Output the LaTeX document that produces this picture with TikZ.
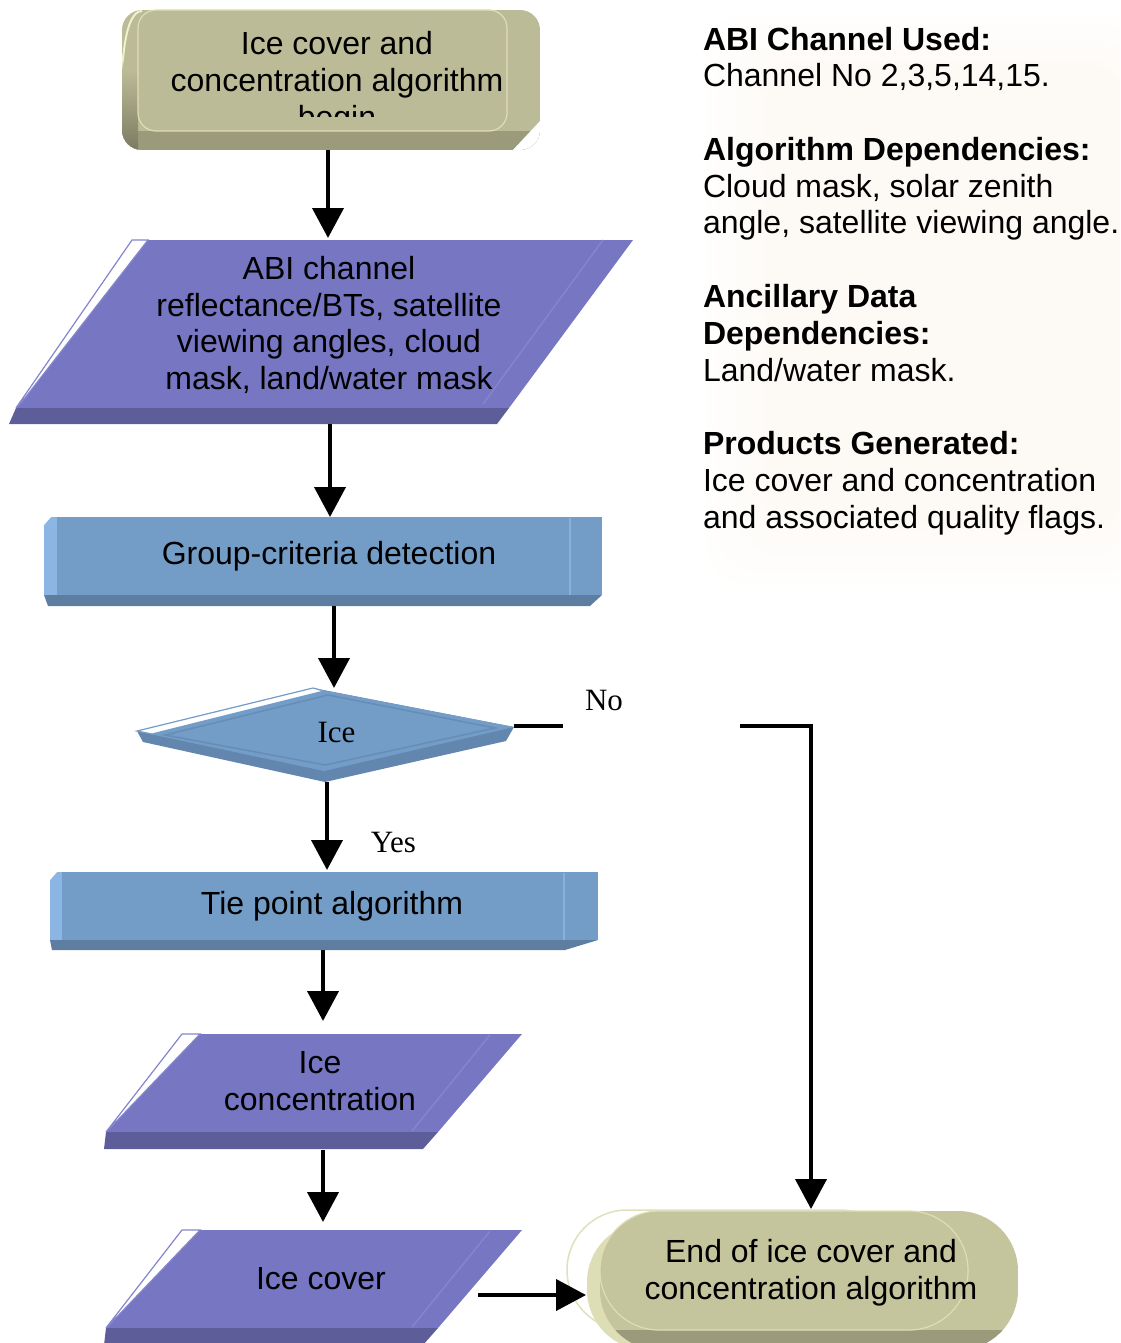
\documentclass[tikz,border=0pt]{standalone}
\usepackage{fontspec}
\setmainfont{Liberation Sans}
\newfontfamily\labelserif{Liberation Serif}
\usetikzlibrary{arrows.meta}

\definecolor{olivefront}{HTML}{BCBB97}
\definecolor{olivedeep}{HTML}{9B9A7B}
\definecolor{olivelight}{HTML}{DEDEB6}
\definecolor{oliveglow}{HTML}{F0F0CC}
\definecolor{endfront}{HTML}{C4C49D}
\definecolor{iofront}{HTML}{7676C2}
\definecolor{iodeep}{HTML}{5D5D99}
\definecolor{ioline}{HTML}{8585CF}
\definecolor{procfront}{HTML}{739DC6}
\definecolor{procdeep}{HTML}{5E7EA1}
\definecolor{proclight}{HTML}{8BB6E3}
\definecolor{procline}{HTML}{87B0DB}
\definecolor{diadeep}{HTML}{6386AE}
\definecolor{diainner}{HTML}{668DB7}
\definecolor{haze}{HTML}{F3DCC0}

\begin{document}
\begin{tikzpicture}[x=1pt, y=-1pt,
  flow/.style={line width=4pt, -{Triangle[width=31pt,length=30pt]}},
  hub/.style={draw=none, inner sep=0pt, outer sep=0pt},
  txt/.style={font=\fontsize{32}{36.8}\selectfont, align=center, inner sep=0pt, outer sep=0pt},
  serifl/.style={font=\labelserif\fontsize{31}{36}\selectfont, inner sep=0pt, outer sep=0pt},
  info/.style={font=\fontsize{32}{36.7}\selectfont, align=left, inner sep=0pt, outer sep=0pt}
]
\useasboundingbox (0,0) rectangle (1120,1343);
\clip (0,0) rectangle (1120,1343);

% faint soft glow behind the side notes
\foreach \i in {0,...,13} {
  \fill[haze, opacity=0.012, rounded corners=40pt]
    (700+6*\i, 10+5*\i) rectangle (1150-2*\i, 590-6*\i);
}

% ---------- start terminal ----------
\begin{scope}
  \clip[rounded corners=20pt] (122,10) rectangle (540,150);
  \fill[olivefront] (122,10) rectangle (540,150);
  \fill[olivedeep] (110,131) rectangle (550,160);
  \shade[top color=olivefront, bottom color=olivedeep!80!black] (122,70) rectangle (138,150);
  \fill[white] (541,120) -- (541,151) -- (512,151) -- cycle;
\end{scope}
\filldraw[fill=olivefront, draw=olivelight, line width=1.2pt, rounded corners=18pt]
  (138,10) rectangle (507,131);
\draw[oliveglow, line width=2pt] (123,55) to[out=-90,in=180] (142,11);
\begin{scope}
  \clip (138,10) rectangle (507,117);
  \node[txt] (starttext) at (337,83) {Ice cover and\\concentration algorithm\\begin};
\end{scope}

% ---------- input data ----------
\fill[iofront] (132,240) -- (633,240) -- (509,408) -- (16,408) -- cycle;
\fill[iodeep] (16,408) -- (509,408) -- (497,424) -- (9,424) -- cycle;
\filldraw[fill=white, draw=ioline, line width=1.2pt] (132,240) -- (148,240) -- (21,403) -- (16,408) -- cycle;
\draw[ioline, line width=1.5pt] (603,240) -- (483,404);
\node[txt] (abitext) at (329,325) {ABI channel\\reflectance/BTs, satellite\\viewing angles, cloud\\mask, land/water mask};

% ---------- group-criteria detection ----------
\fill[procfront] (44,517) rectangle (602,595);
\fill[procdeep] (44,595) -- (602,595) -- (590,606) -- (48,606) -- cycle;
\fill[proclight] (44,517) rectangle (57,595);
\fill[white] (44,517) -- (51,517) -- (44,525) -- cycle;
\draw[procline, line width=1.2pt] (570,518) -- (570,595);
\node[txt] (grouptext) at (329,556.7) {Group-criteria detection};

% ---------- decision ----------
\fill[diadeep] (137,731) -- (313,688) -- (514,727) -- (506,741) -- (325,782) -- (143,742) -- cycle;
\fill[procfront] (150,734) -- (322,690) -- (514,727) -- (324,771) -- cycle;
\filldraw[fill=white, draw=procfront, line width=1.2pt] (137,731) -- (313,688) -- (324,691) -- (152,734) -- cycle;
\draw[diainner, line width=1.5pt] (165,735) -- (328,695) -- (495,728) -- (325,765) -- cycle;
\node[serifl] (icetext) at (336.5,732.7) {Ice};

% ---------- tie point algorithm ----------
\fill[procfront] (50,872) rectangle (598,940);
\fill[procdeep] (50,940) -- (598,940) -- (565,950) -- (52,950) -- cycle;
\fill[proclight] (50,872) rectangle (62,940);
\fill[white] (50,872) -- (57,872) -- (50,880) -- cycle;
\draw[procline, line width=1.2pt] (564,873) -- (564,940);
\node[txt] (tietext) at (332,906.7) {Tie point algorithm};

% ---------- output parallelograms ----------
\foreach \dy in {0,196} {
  \begin{scope}[shift={(0,\dy)}]
    \fill[iofront] (182,1034) -- (522,1034) -- (438,1132) -- (106,1132) -- cycle;
    \fill[iodeep] (106,1132) -- (438,1132) -- (423,1149) -- (104,1149) -- cycle;
    \filldraw[fill=white, draw=ioline, line width=1.2pt] (182,1034) -- (200,1034) -- (110,1128) -- (106,1132) -- cycle;
    \draw[ioline, line width=1.5pt] (490,1035) -- (412,1131);
  \end{scope}
}
\node[txt] (conctext) at (320,1081.5) {Ice\\concentration};
\node[txt] (covertext) at (321,1278.5) {Ice cover};

% ---------- end terminal ----------
\draw[oliveglow!70!olivefront, line width=1.5pt, rounded corners=60pt] (567,1210) rectangle (900,1330);
\fill[olivelight, rounded corners=60pt] (587,1222) rectangle (760,1350);
\begin{scope}
  \clip[rounded corners=60pt] (600,1211) rectangle (1018,1350);
  \fill[endfront] (600,1211) rectangle (1018,1350);
  \fill[olivedeep] (580,1330) rectangle (1030,1350);
\end{scope}
\filldraw[fill=endfront, draw=olivelight, line width=1.2pt, rounded corners=59pt]
  (600,1211) rectangle (968,1330);
\node[txt] (endtext) at (811,1273) {End of ice cover and\\concentration algorithm};

% ---------- connector anchors ----------
\node[hub, minimum width=10pt, minimum height=140pt] (start) at (328,80) {};
\node[hub, minimum width=10pt, minimum height=186pt] (abi) at (330,331) {};
\node[hub, minimum width=10pt, minimum height=89pt] (group) at (334,561.5) {};
\node[hub, minimum width=374pt, minimum height=94pt] (ice) at (327,735) {};
\node[hub, minimum width=10pt, minimum height=80pt] (tie) at (323,910) {};
\node[hub, minimum width=10pt, minimum height=129pt] (conc) at (323,1085.5) {};
\node[hub, minimum width=310pt, minimum height=146pt] (cover) at (323,1295) {};
\node[hub, minimum width=450pt, minimum height=172pt] (end) at (811,1295) {};

% ---------- connectors ----------
\draw[flow] (start.south) -- (start.south |- abi.north);
\draw[flow] (abi.south) -- (abi.south |- group.north);
\draw[flow] (group.south) -- (group.south |- ice.north);
\draw[flow] (ice.south) -- (ice.south |- tie.north);
\draw[flow] (tie.south) -- (tie.south |- conc.north);
\draw[flow] (conc.south) -- (conc.south |- cover.north);
\draw[flow] (cover.east) -- (end.west);
\draw[flow] ([yshift=9pt]ice.east) -| (end.north);

% branch labels
\node[serifl, fill=white, text width=133pt, inner xsep=22pt, minimum height=64pt, align=left]
  (nolabel) at (651.5,700.7) {No};
\node[serifl] (yeslabel) at (393.5,842) {Yes};

% ---------- side notes ----------
\node[info, anchor=north west] (notes) at (703,27) {%
  \textbf{ABI Channel Used:}\\
  Channel No 2,3,5,14,15.\\[37pt]
  \textbf{Algorithm Dependencies:}\\
  Cloud mask, solar zenith\\
  angle, satellite viewing angle.\\[37pt]
  \textbf{Ancillary Data}\\
  \textbf{Dependencies:}\\
  Land/water mask.\\[37pt]
  \textbf{Products Generated:}\\
  Ice cover and concentration\\
  and associated quality flags.};
\end{tikzpicture}
\end{document}
